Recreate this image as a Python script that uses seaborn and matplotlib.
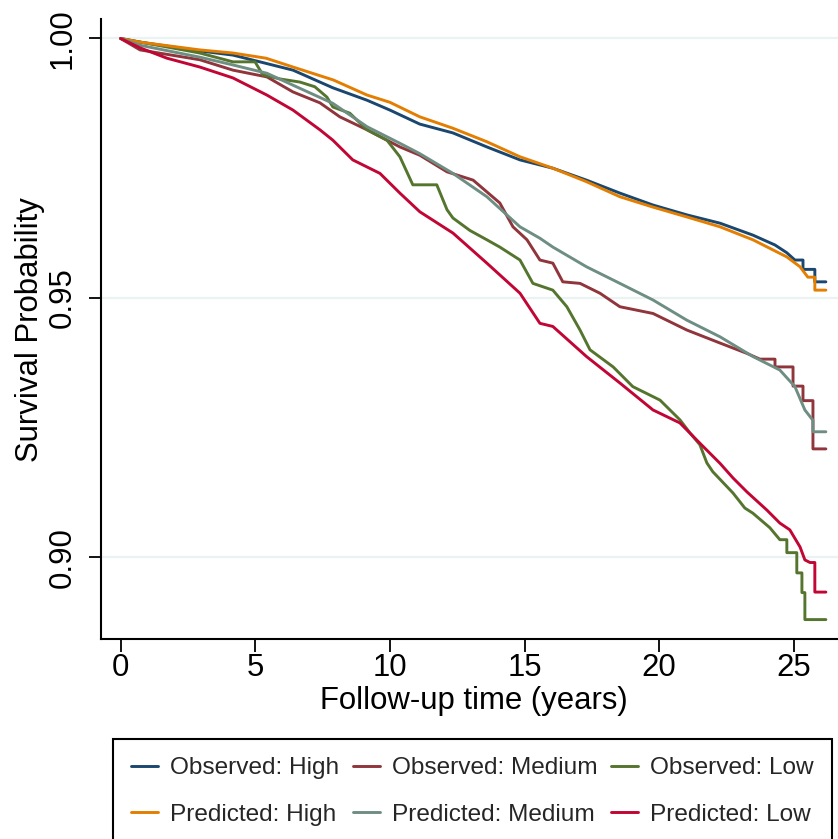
import numpy as np
import pandas as pd
import matplotlib
matplotlib.use("Agg")
import matplotlib.pyplot as plt
import seaborn as sns
from matplotlib.lines import Line2D

# ---------------- data ----------------
series_names = ["Observed: High", "Observed: Medium", "Observed: Low",
                "Predicted: High", "Predicted: Medium", "Predicted: Low"]
series_colors = ["#1a476f", "#90353b", "#55752f", "#e37e00", "#6e8e84", "#c10534"]

t_obs_high = [0, 0.72, 2.94, 4.17, 5.17, 6.40, 7.88, 9.15, 10.0, 11.11, 12.34, 13.6, 14.83,
              16.05, 17.3, 18.54, 19.77, 21.03, 22.26, 23.48, 24.3, 24.74, 25.04, 25.34,
              25.34, 25.78, 25.78, 26.19]
s_obs_high = [1.0, 0.9993, 0.9976, 0.9968, 0.9955, 0.9939, 0.9905, 0.9881, 0.9862, 0.9835,
              0.9818, 0.9791, 0.9766, 0.9750, 0.9727, 0.9702, 0.9679, 0.9660, 0.9644, 0.9621,
              0.9602, 0.9587, 0.9573, 0.9573, 0.9555, 0.9555, 0.9531, 0.9531]

t_obs_med = [0, 0.72, 2.94, 4.17, 5.43, 6.40, 7.4, 8.14, 9.15, 10.37, 11.11, 12.12, 13.09,
             14.08, 14.57, 15.09, 15.57, 16.05, 16.42, 17.06, 17.8, 18.54, 19.77, 21.03,
             22.26, 23.26, 23.74, 24.30, 24.30, 24.97, 24.97, 25.34, 25.34, 25.71, 25.71,
             26.19]
s_obs_med = [1.0, 0.9978, 0.9959, 0.9939, 0.9926, 0.9897, 0.9876, 0.9849, 0.9824, 0.9791,
             0.9775, 0.9743, 0.9727, 0.9683, 0.9637, 0.9612, 0.9573, 0.9567, 0.9531, 0.9528,
             0.9509, 0.9483, 0.9470, 0.9438, 0.9413, 0.9393, 0.9382, 0.9382, 0.9367, 0.9367,
             0.9330, 0.9330, 0.9302, 0.9302, 0.9209, 0.9209]

t_obs_low = [0, 2.94, 4.17, 4.99, 5.28, 5.92, 6.66, 7.21, 7.66, 7.88, 8.51, 9.15, 9.89,
             10.37, 10.85, 11.74, 12.12, 12.34, 12.97, 13.6, 14.08, 14.83, 15.31, 16.05,
             16.57, 17.06, 17.43, 18.29, 19.02, 20.03, 20.77, 21.14, 21.51, 21.77, 21.99,
             22.74, 23.18, 23.48, 24.11, 24.48, 24.74, 24.74, 25.11, 25.11, 25.30, 25.30,
             25.41, 25.41, 26.19]
s_obs_low = [1.0, 0.9972, 0.9955, 0.9955, 0.9930, 0.9922, 0.9916, 0.9907, 0.9887, 0.9868,
             0.9856, 0.9824, 0.9804, 0.9772, 0.9718, 0.9718, 0.9670, 0.9654, 0.9630, 0.9612,
             0.9598, 0.9573, 0.9528, 0.9515, 0.9483, 0.9438, 0.9400, 0.9367, 0.9329, 0.9303,
             0.9265, 0.9240, 0.9217, 0.9182, 0.9165, 0.9124, 0.9095, 0.9085, 0.9057, 0.9034,
             0.9034, 0.9009, 0.9009, 0.8970, 0.8970, 0.8932, 0.8932, 0.8880, 0.8880]

t_pred_high = [0, 0.72, 2.94, 4.17, 5.4, 6.4, 7.9, 9.15, 10.0, 11.11, 12.34, 13.6, 14.83,
               16.05, 17.3, 18.54, 19.77, 21.03, 22.26, 23.48, 24.74, 25.23, 25.52, 25.78,
               25.78, 26.19]
s_pred_high = [1.0, 0.9993, 0.9978, 0.9972, 0.9962, 0.9945, 0.9920, 0.9891, 0.9877, 0.9849,
               0.9827, 0.9801, 0.9772, 0.9750, 0.9724, 0.9695, 0.9675, 0.9656, 0.9637, 0.9612,
               0.9579, 0.9560, 0.9540, 0.9540, 0.9515, 0.9515]

t_pred_med = [0, 0.72, 2.94, 4.17, 5.43, 6.40, 7.88, 9.15, 10.37, 11.11, 12.34, 13.6, 14.83,
              15.57, 16.05, 17.3, 18.54, 19.77, 21.03, 22.26, 23.48, 24.48, 25.04, 25.41,
              25.71, 25.71, 26.19]
s_pred_med = [1.0, 0.9987, 0.9964, 0.9949, 0.9933, 0.9910, 0.9875, 0.9830, 0.9798, 0.9778,
              0.9740, 0.9695, 0.9637, 0.9615, 0.9598, 0.9560, 0.9528, 0.9496, 0.9457, 0.9425,
              0.9387, 0.9361, 0.9329, 0.9284, 0.9264, 0.9242, 0.9242]

t_pred_low = [0, 0.72, 1.72, 2.94, 4.17, 5.43, 6.40, 7.4, 7.88, 8.62, 9.63, 10.37, 11.11,
              12.34, 13.6, 14.83, 15.57, 16.05, 17.3, 18.54, 19.77, 20.77, 21.51, 22.26,
              22.74, 23.26, 24.0, 24.48, 24.85, 25.23, 25.41, 25.6, 25.78, 25.78, 26.19]
s_pred_low = [1.0, 0.9982, 0.9962, 0.9945, 0.9924, 0.9891, 0.9862, 0.9824, 0.9804, 0.9766,
              0.9740, 0.9702, 0.9666, 0.9625, 0.9567, 0.9509, 0.9451, 0.9445, 0.9387, 0.9336,
              0.9284, 0.9259, 0.9220, 0.9181, 0.9153, 0.9126, 0.9091, 0.9066, 0.9053, 0.9020,
              0.8995, 0.8990, 0.8990, 0.8933, 0.8933]

x_ticks = [0, 5, 10, 15, 20, 25]
y_ticks = [0.90, 0.95, 1.00]
y_tick_labels = ["0.90", "0.95", "1.00"]
x_label = "Follow-up time (years)"
y_label = "Survival Probability"

# ---------------- build long table ----------------
all_t = [t_obs_high, t_obs_med, t_obs_low, t_pred_high, t_pred_med, t_pred_low]
all_s = [s_obs_high, s_obs_med, s_obs_low, s_pred_high, s_pred_med, s_pred_low]
frames = []
for name, tt, ss in zip(series_names, all_t, all_s):
    frames.append(pd.DataFrame({"time": tt, "surv": ss, "group": name}))
df = pd.concat(frames, ignore_index=True)

# ---------------- style ----------------
sns.set_theme(style="white")
plt.rcParams["font.family"] = ["Liberation Sans", "DejaVu Sans"]

W, H = 838, 839
fig = plt.figure(figsize=(W / 100, H / 100), dpi=100)
ax = fig.add_axes([101 / W, 1 - 639.3 / H, (W - 101) / W, (639.3 - 19.3) / H])

for yv in y_ticks:
    ax.axhline(yv, color="#eaf2f3", lw=1.6, zorder=0)

palette = dict(zip(series_names, series_colors))
sns.lineplot(data=df, x="time", y="surv", hue="group", hue_order=series_names,
             palette=palette, estimator=None, sort=False, units="group",
             lw=2.1, ax=ax, legend=False)

ax.set_xlim(-0.73, 26.64)
ax.set_ylim(0.8842, 1.0037)
ax.set_xticks(x_ticks)
ax.set_xticklabels([str(v) for v in x_ticks])
ax.set_yticks(y_ticks)
ax.set_yticklabels(y_tick_labels, rotation=90, va="center")

for side in ["top", "right"]:
    ax.spines[side].set_visible(False)
for side in ["left", "bottom"]:
    ax.spines[side].set_color("black")
    ax.spines[side].set_linewidth(1.5)

ax.tick_params(axis="both", which="major", direction="out", length=9, width=1.3,
               color="black", labelsize=22.4, labelcolor="black",
               left=True, bottom=True)
ax.tick_params(axis="x", pad=1)
ax.tick_params(axis="y", pad=8)

ax.set_xlabel(x_label, fontsize=22.4, color="black", labelpad=0)
ax.set_ylabel(y_label, fontsize=22.4, color="black", labelpad=2)
ax.xaxis.set_label_coords((474 - 101) / (W - 101), -0.075)

# ---------------- legend ----------------
handles = [Line2D([], [], color=c, lw=2.1) for c in series_colors]
order = [0, 3, 1, 4, 2, 5]
leg = fig.legend([handles[i] for i in order], [series_names[i] for i in order],
                 loc="upper left", ncol=3, mode="expand",
                 bbox_to_anchor=(113 / W, 1 - 739 / H, (832 - 113) / W, 0.0),
                 borderaxespad=0, fontsize=17.6, frameon=True, fancybox=False,
                 handlelength=1.1, handletextpad=0.5, columnspacing=0.4,
                 labelspacing=1.0, borderpad=0.75)
fr = leg.get_frame()
fr.set_edgecolor("black")
fr.set_linewidth(1.5)
fr.set_facecolor("white")
fr.set_alpha(1)

fig.savefig("out.png", dpi=100)
